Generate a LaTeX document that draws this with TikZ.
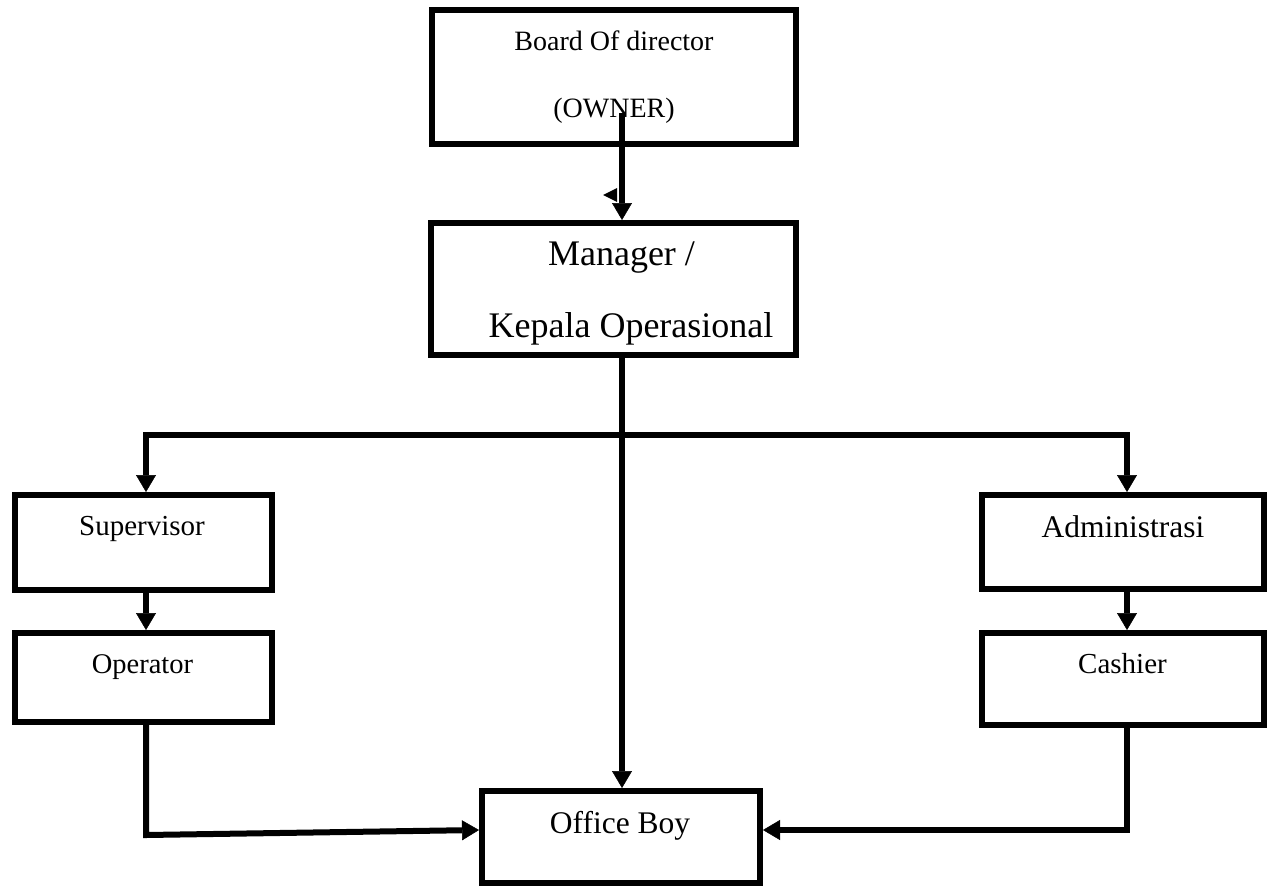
\documentclass[tikz,border=0pt]{standalone}
\usepackage{fontspec}
\setmainfont{Liberation Serif}
\usetikzlibrary{arrows.meta,calc}
\begin{document}
\begin{tikzpicture}[x=1pt,y=-1pt,
  box/.style={draw, line width=6pt, rectangle, inner sep=0pt, outer sep=3pt},
  lbl/.style={inner sep=0pt, anchor=base},
  conn/.style={line width=6pt, line join=miter},
  arr/.style={conn, -{Triangle[length=17pt,width=20pt,line width=0.5pt]}},
]
\useasboundingbox (0,0) rectangle (1274,886);

% boxes
\node[box, minimum width=364pt, minimum height=134pt] (board) at (614,77) {};
\node[box, minimum width=365pt, minimum height=132pt] (manager) at (613.5,289) {};
\node[box, minimum width=257pt, minimum height=95pt] (supervisor) at (143.5,542.5) {};
\node[box, minimum width=257pt, minimum height=89pt] (operator) at (143.5,677.5) {};
\node[box, minimum width=282pt, minimum height=94pt] (admin) at (1123,542) {};
\node[box, minimum width=282pt, minimum height=92pt] (cashier) at (1123,679) {};
\node[box, minimum width=278pt, minimum height=92pt] (office) at (621,837) {};

% texts
\node[lbl, font=\fontsize{28}{28}\selectfont] (boardA) at (614,50) {Board Of director};
\node[lbl, font=\fontsize{28}{28}\selectfont] (boardB) at (614,117) {(OWNER)};
\node[lbl, font=\fontsize{36}{36}\selectfont] (managerA) at (621.5,265) {Manager /};
\node[lbl, font=\fontsize{36}{36}\selectfont] (managerB) at (631,337) {Kepala Operasional};
\node[lbl, font=\fontsize{29}{29}\selectfont] (supervisorT) at (142,535) {Supervisor};
\node[lbl, font=\fontsize{28.5}{28.5}\selectfont] (operatorT) at (142.5,673) {Operator};
\node[lbl, font=\fontsize{31.5}{31.5}\selectfont] (adminT) at (1123,537) {Administrasi};
\node[lbl, font=\fontsize{29}{29}\selectfont] (cashierT) at (1122.5,673) {Cashier};
\node[lbl, font=\fontsize{31.5}{31.5}\selectfont] (officeT) at (620,833) {Office Boy};

% connector coordinates
\coordinate (bstart) at (622,113);
\coordinate (jl) at (146,435);
\coordinate (jr) at (1127,435);
\coordinate (ylow) at (0,835);
\coordinate (yarr) at (0,830);

% connectors
\draw[arr] (bstart) -- (bstart |- manager.north);
\draw[arr] (bstart |- manager.south) -- (bstart |- office.north);
\draw[arr] (jr) -- (jl) -- (jl |- supervisor.north);
\draw[arr] (jl) -- (jr) -- (jr |- admin.north);
\draw[arr] (jl |- supervisor.south) -- (jl |- operator.north);
\draw[arr] (jr |- admin.south) -- (jr |- cashier.north);
\draw[arr] (jl |- operator.south) -- (jl |- ylow) -- (office.west |- yarr);
\draw[arr] (jr |- cashier.south) -- (jr |- yarr) -- (office.east |- yarr);

% stray small arrowhead
\fill (603,195) -- (617,188) -- (617,202) -- cycle;
\end{tikzpicture}
\end{document}
